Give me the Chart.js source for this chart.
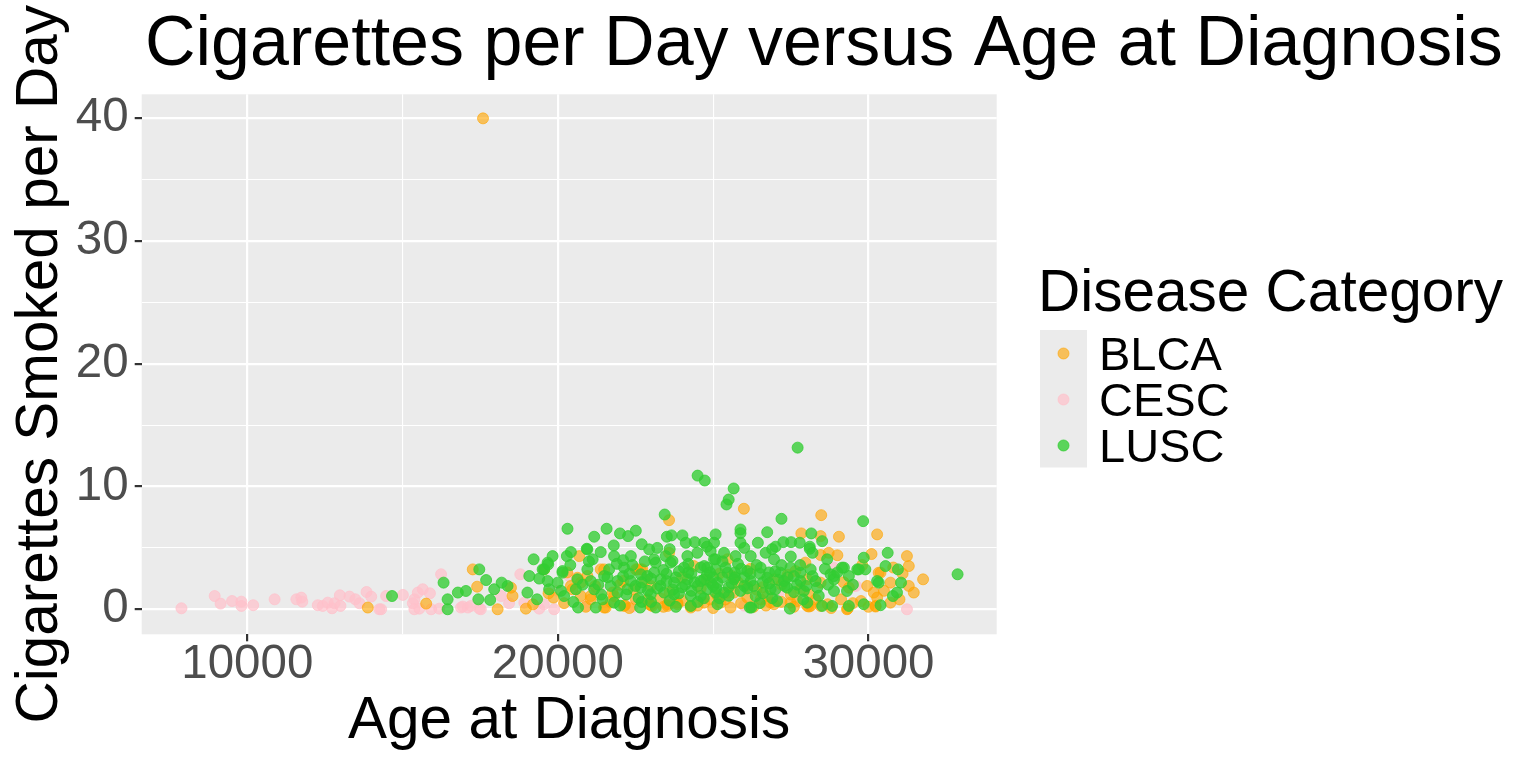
<!DOCTYPE html>
<html>
<head>
<meta charset="utf-8">
<title>Cigarettes per Day versus Age at Diagnosis</title>
<script src="https://cdn.jsdelivr.net/npm/chart.js@4.4.1/dist/chart.umd.min.js"></script>
<style>
  html, body { margin: 0; padding: 0; background: #ffffff; }
  #wrap { width: 1536px; height: 768px; }
</style>
</head>
<body>
<div id="wrap"><canvas id="chart" width="1536" height="768"></canvas></div>
<script>
// values (age in days, cigarettes per day)
const cescAge = [7880, 8950, 9140, 9510, 9810, 9810, 10190, 10880, 11580, 11740, 11770, 12270, 12430, 12590, 12730, 12810, 13000, 12980, 13290, 13480, 13610, 13840, 13990, 14250, 14310, 14470, 15010, 15330, 15380, 15380, 15490, 15650, 15880, 15540, 15920, 16180, 16240, 16880, 16940, 17100, 17200, 17470, 17520, 18170, 18430, 18790, 18920, 19400, 19880, 20360, 19550, 20000, 20900, 21300, 22400, 23700, 26000, 26530, 27100, 28880, 29530, 29600, 31240];
const cescCigs = [0.08, 1.08, 0.46, 0.67, 0.62, 0.27, 0.33, 0.81, 0.81, 0.95, 0.62, 0.33, 0.27, 0.54, 0.08, 0.49, 0.27, 1.14, 1.03, 0.81, 0.49, 1.41, 1.03, 0.0, 0.0, 1.08, 1.17, 0.49, 0.81, 0.0, 1.36, 1.63, 1.30, 0.05, 0.0, 0.05, 2.85, 0.14, 0.22, 0.14, 0.27, 0.05, 0.0, 1.08, 0.49, 2.85, 0.54, 0.05, 0.0, 2.71, 0.4, 1.5, 0.3, 1.6, 0.2, 0.5, 0.3, 0.81, 1.3, 3.39, 1.9, 1.9, 0.0];

const blcaAge = [17590, 13880, 15760, 17260, 17400, 18060, 18540, 18970, 19560, 19860, 18490, 20630, 21060, 20690, 22560, 22940, 23530, 23580, 23580, 21490, 23530, 22670, 25990, 28480, 27840, 29050, 30280, 31240, 31300, 31760, 31460, 30710, 30230, 30390, 29960, 30710, 29330, 28460, 28080, 27490, 26960, 26100, 25560, 24710, 24280, 23850, 22990, 22160, 21060, 21810, 22720, 22510, 21490, 27970, 27650, 26960, 26530, 25460, 25140, 22510, 20740, 20420, 20950, 28460, 30330, 30170, 30280, 30230, 29310, 28030, 24280, 26850, 28460, 28460, 28720, 29370, 29760, 29120, 28690, 28140, 27710, 25240, 25460, 28030, 27810, 25670, 26740, 26100, 21380, 21540, 22130, 22450, 23040, 23850, 24380, 20740, 21760, 20470, 22000, 23000, 24000, 24600, 25200, 25800, 26400, 27200, 27500, 24900, 23300, 26200, 22800, 29800, 31000, 31300, 30800,
  20200, 20900, 21700, 22300, 22900, 23400, 24000, 24500, 25000, 25400, 25900, 26300, 26700, 27200, 27600, 28300, 28800, 29500, 30000, 30500, 31100, 21200, 22100, 23600, 24800, 25600, 26600, 27400, 28100, 29200, 29000, 30100, 20300, 19700, 19200];
const blcaCigs = [40.0, 0.14, 0.46, 3.25, 1.84, 0.0, 1.08, 0.05, 3.25, 0.95, 1.76, 2.57, 1.08, 4.33, 3.25, 0.41, 0.41, 4.6, 7.26, 0.14, 0.27, 3.25, 8.19, 7.67, 6.18, 5.91, 6.1, 4.33, 3.52, 2.44, 1.36, 0.54, 0.22, 2.98, 1.9, 2.17, 0.05, 0.27, 0.22, 0.54, 0.41, 0.95, 0.14, 0.54, 0.27, 0.54, 0.33, 0.33, 0.81, 1.08, 3.25, 3.25, 3.25, 3.8, 3.11, 2.44, 0.81, 1.36, 1.08, 0.81, 1.08, 1.9, 2.71, 4.42, 2.98, 1.36, 0.95, 0.27, 0.0, 0.27, 0.14, 0.54, 2.17, 5.96, 4.6, 1.76, 0.67, 0.81, 0.41, 0.27, 0.67, 0.54, 4.07, 2.44, 1.63, 1.36, 1.08, 1.9, 3.25, 0.14, 0.27, 1.63, 0.27, 0.41, 3.52, 2.17, 1.36, 1.63, 2.0, 1.9, 2.6, 1.7, 2.9, 2.2, 1.6, 2.0, 1.2, 0.8, 0.9, 3.3, 2.4, 3.6, 0.8, 1.9, 3.4,
  0.5, 0.2, 0.6, 0.1, 0.8, 0.2, 0.7, 0.3, 0.1, 0.8, 0.5, 0.2, 0.3, 0.6, 0.2, 0.8, 0.1, 0.5, 0.2, 1.5, 2.9, 1.9, 2.3, 1.4, 2.4, 2.7, 1.8, 2.8, 1.2, 2.2, 4.4, 4.5, 3.0, 1.3, 0.4];

const luscAge = [27720, 24500, 24730, 25660, 25500, 25430, 25880, 25880, 23440, 29830, 27200, 20310, 21570, 22000, 22510, 21170, 22260, 23510, 23660, 24010, 24120, 24410, 24710, 25080,
  19830, 20420, 20290, 20950, 21380, 21120, 21810, 22350, 22940, 23100, 23470, 23690, 24170, 24490, 24920, 25030,
  19670, 19560, 20150, 20950, 21650, 22130, 22670, 23150, 23630, 24060, 24710, 25080,
  19670, 19990, 20630, 21060, 21490, 21920, 22350, 22880, 23310, 23740, 24170, 24600, 24920,
  19720, 20200, 20580, 21170, 21440, 21920, 22240, 22670, 22990, 23420, 23740, 24280, 24600, 25080,
  20650, 21220, 21810, 22650, 23150, 24280, 25140,
  26740, 28160, 25030, 25880, 26440, 27010, 27260, 27510, 27790, 28110, 28510,
  25350, 25720, 26210, 26690, 26960, 28670, 29850, 25080, 29210, 29640, 29900,
  24810, 25460, 26100, 26530, 27170, 27490, 27810, 28140, 28780, 28890,
  24710, 25140, 25670, 26210, 26740, 27280, 27810, 28350, 28890, 29310,
  24810, 25350, 25880, 26370, 26850, 27380, 27920,
  26180, 27060, 27470, 28030, 28510, 28830, 29370, 29850, 30280, 32870,
  30620, 30550, 30950, 31050, 30330, 30790, 30920, 30390, 29690, 29150, 29370, 28890, 26230,
  14660, 16320, 16450, 16450, 16780, 17040, 17470, 17690, 17440, 17820, 17950, 18190, 18380,
  19220, 19080, 19510, 19690, 19020, 19330, 20150, 20930, 28110,
  21300, 21700, 22100, 22500, 22700, 23000, 23200, 23500, 23800, 24000, 24300, 24500, 24800, 25000, 25300, 25500, 25700, 26000, 26300, 26500, 26800, 27000, 27300, 27600,
  23400, 24200, 25900, 26600, 22300, 22900, 23900, 24400, 25600, 26100, 27100, 27700, 28300, 28600, 25200, 23600, 22700, 26900, 24900, 25400, 23100,
  20400, 20800, 21000, 21600, 21900, 22200, 22400, 22600, 22800, 23000, 23300, 23500, 23700, 23900, 24100, 24300, 24600, 24700, 25000, 25100, 25300, 25500, 25700, 25800, 26000, 26200, 26400, 26600, 26800, 27000,
  27200, 27400, 27600, 27800, 28000, 28200, 28400, 28700, 29000, 29500, 20100, 20500, 21400, 22000, 23800, 24500, 26500, 27900, 21800, 22700, 23200, 24800, 26000, 26900, 24200, 23600, 22100, 27500, 28200, 19400];
const luscCigs = [13.17, 10.89, 10.49, 9.84, 8.94, 8.54, 6.5, 6.2, 7.72, 7.18, 7.37, 6.56, 6.56, 6.18, 6.4, 5.91, 5.96, 5.91, 6.02, 6.02, 5.42, 5.47, 5.42, 6.1,
  4.33, 4.66, 4.33, 4.88, 4.66, 4.07, 4.33, 4.33, 4.88, 4.07, 4.33, 3.93, 4.33, 4.6, 4.74, 4.07,
  3.8, 3.25, 3.11, 3.25, 3.25, 3.39, 2.85, 3.8, 3.8, 3.39, 3.52, 3.25,
  2.3, 2.17, 2.44, 2.3, 2.71, 2.3, 2.3, 2.71, 2.44, 2.17, 2.44, 2.3, 2.17,
  1.63, 1.08, 1.63, 1.63, 0.81, 1.36, 1.63, 1.76, 1.22, 1.36, 1.22, 1.08, 1.08, 1.36,
  0.14, 0.14, 0.54, 0.14, 0.14, 0.27, 0.41,
  6.28, 6.18, 5.42, 5.42, 5.42, 5.1, 5.47, 5.47, 5.42, 5.1, 5.55,
  4.6, 4.33, 4.33, 4.6, 4.07, 4.07, 4.2, 4.07, 3.39, 3.25, 3.25,
  3.39, 2.98, 3.11, 3.39, 2.98, 3.39, 2.98, 3.25, 2.85, 2.44,
  2.44, 2.17, 2.44, 2.3, 2.57, 2.3, 2.3, 1.76, 1.49, 1.49,
  1.63, 1.36, 1.49, 1.08, 1.63, 1.76, 1.49,
  0.14, 0.67, 0.05, 0.54, 0.27, 0.27, 0.27, 0.41, 2.3, 2.85,
  4.6, 3.52, 3.25, 2.17, 2.17, 1.08, 1.36, 0.33, 3.25, 3.39, 2.71, 2.71, 0.14,
  1.08, 2.17, 0.81, 0.0, 1.36, 1.49, 3.25, 2.38, 0.81, 0.76, 1.63, 2.17, 1.9,
  4.07, 2.71, 3.25, 3.66, 1.36, 0.81, 2.98, 4.93, 4.93,
  2.0, 1.9, 2.7, 1.9, 2.2, 2.5, 1.7, 2.9, 2.6, 1.8, 2.9, 1.9, 2.8, 1.9, 2.6, 1.8, 3.0, 2.6, 1.9, 2.9, 2.1, 3.1, 1.9, 2.7,
  3.2, 3.0, 3.3, 2.2, 2.9, 1.5, 1.3, 2.2, 2.1, 1.7, 2.4, 2.0, 2.3, 3.3, 0.9, 0.7, 0.6, 0.9, 3.0, 3.4, 3.0,
  3.6, 2.0, 3.9, 2.6, 3.7, 1.2, 3.6, 0.9, 3.9, 0.6, 1.9, 2.3, 1.6, 3.1, 2.0, 1.5, 3.4, 0.9, 2.6, 1.7, 3.9, 1.1, 2.6, 3.7, 1.9, 2.9, 3.6, 1.3, 3.0, 1.6,
  3.6, 2.6, 1.4, 3.6, 1.9, 2.7, 1.1, 2.0, 3.0, 2.0, 1.5, 0.6, 1.2, 0.3, 0.2, 0.6, 0.5, 0.8, 5.2, 5.3, 5.0, 5.1, 5.0, 4.9, 3.7, 4.9, 4.0, 4.3, 4.6, 2.5];

const categories = ['BLCA', 'CESC', 'LUSC'];
const catColors = ['rgba(255,165,0,0.62)', 'rgba(255,192,203,0.7)', 'rgba(50,205,50,0.78)'];
const xTicks = [10000, 15000, 20000, 25000, 30000];
const yTicks = [0, 5, 10, 15, 20, 25, 30, 35, 40];

const FONT = '"Liberation Sans", Arial, Helvetica, sans-serif';

function toPoints(xs, ys) {
  return xs.map((x, i) => ({ x: x, y: ys[i] }));
}

// panel background, main title, rotated y title and the legend (ggplot look)
const ggDecor = {
  id: 'ggDecor',
  beforeDraw(chart) {
    const { ctx, chartArea: a } = chart;
    ctx.save();
    ctx.fillStyle = '#EBEBEB';
    ctx.fillRect(a.left, a.top, a.right - a.left, a.bottom - a.top);
    ctx.restore();
  },
  afterDraw(chart) {
    const { ctx, chartArea: a } = chart;
    ctx.save();
    ctx.fillStyle = '#000000';
    ctx.textAlign = 'left';
    ctx.textBaseline = 'alphabetic';
    ctx.font = '70px ' + FONT;
    ctx.fillText('Cigarettes per Day versus Age at Diagnosis', 145, 65);

    ctx.save();
    ctx.translate(57, (a.top + a.bottom) / 2);
    ctx.rotate(-Math.PI / 2);
    ctx.textAlign = 'center';
    ctx.font = '58.5px ' + FONT;
    ctx.fillText('Cigarettes Smoked per Day', 0, 0);
    ctx.restore();

    // legend
    ctx.font = '58.5px ' + FONT;
    ctx.fillText('Disease Category', 1038, 311);
    ctx.fillStyle = '#EBEBEB';
    ctx.fillRect(1040, 330, 47, 137.5);
    const rowY = [353.5, 399.5, 445.5];
    const baseY = [370, 416.2, 462.4];
    ctx.font = '47px ' + FONT;
    categories.forEach((c, i) => {
      ctx.beginPath();
      ctx.arc(1063.5, rowY[i], 5.5, 0, Math.PI * 2);
      ctx.fillStyle = catColors[i];
      ctx.strokeStyle = catColors[i];
      ctx.lineWidth = 1;
      ctx.fill();
      ctx.stroke();
      ctx.fillStyle = '#000000';
      ctx.fillText(c, 1099, baseY[i]);
    });
    ctx.restore();
  }
};

const gridColor = '#FFFFFF';

new Chart(document.getElementById('chart'), {
  type: 'scatter',
  data: {
    datasets: [
      { label: 'LUSC', data: toPoints(luscAge, luscCigs), backgroundColor: catColors[2], borderColor: catColors[2], order: 0 },
      { label: 'BLCA', data: toPoints(blcaAge, blcaCigs), backgroundColor: catColors[0], borderColor: catColors[0], order: 1 },
      { label: 'CESC', data: toPoints(cescAge, cescCigs), backgroundColor: catColors[1], borderColor: catColors[1], order: 2 },
    ],
  },
  options: {
    responsive: false,
    animation: false,
    events: [],
    layout: { padding: { top: 94.3, right: 539.3, bottom: 0, left: 0 } },
    elements: { point: { radius: 5.5, borderWidth: 1, hoverRadius: 5.5 } },
    plugins: {
      legend: { display: false },
      tooltip: { enabled: false },
      title: { display: false },
    },
    scales: {
      x: {
        type: 'linear',
        min: 6600,
        max: 34130,
        afterBuildTicks: (s) => { s.ticks = xTicks.map(v => ({ value: v })); },
        afterFit: (s) => { s.height = 133.7; },
        border: { display: false },
        grid: {
          color: gridColor,
          lineWidth: (c) => (c.tick && c.tick.value % 10000 === 0 ? 2.2 : 1.1),
          tickColor: (c) => (c.tick && c.tick.value % 10000 === 0 ? '#333333' : 'rgba(0,0,0,0)'),
          tickWidth: 2.2,
          tickLength: 7,
        },
        ticks: {
          color: '#4D4D4D',
          font: { family: FONT, size: 47.5, lineHeight: 1 },
          padding: 0.2,
          maxRotation: 0,
          autoSkip: false,
          callback: (v) => (v % 10000 === 0 ? String(v) : ''),
        },
        title: {
          display: true,
          text: 'Age at Diagnosis',
          color: '#000000',
          font: { family: FONT, size: 58.5, lineHeight: 1.2 },
          padding: { top: 0, bottom: 11.5 },
        },
      },
      y: {
        type: 'linear',
        min: -2.04,
        max: 41.96,
        afterBuildTicks: (s) => { s.ticks = yTicks.map(v => ({ value: v })); },
        afterFit: (s) => { s.width = 141.7; },
        border: { display: false },
        grid: {
          color: gridColor,
          lineWidth: (c) => (c.tick && c.tick.value % 10 === 0 ? 2.2 : 1.1),
          tickColor: (c) => (c.tick && c.tick.value % 10 === 0 ? '#333333' : 'rgba(0,0,0,0)'),
          tickWidth: 2.2,
          tickLength: 7,
        },
        ticks: {
          color: '#4D4D4D',
          font: { family: FONT, size: 47.5 },
          padding: 6,
          autoSkip: false,
          callback: (v) => (v % 10 === 0 ? String(v) : ''),
        },
      },
    },
  },
  plugins: [ggDecor],
});
</script>
</body>
</html>
